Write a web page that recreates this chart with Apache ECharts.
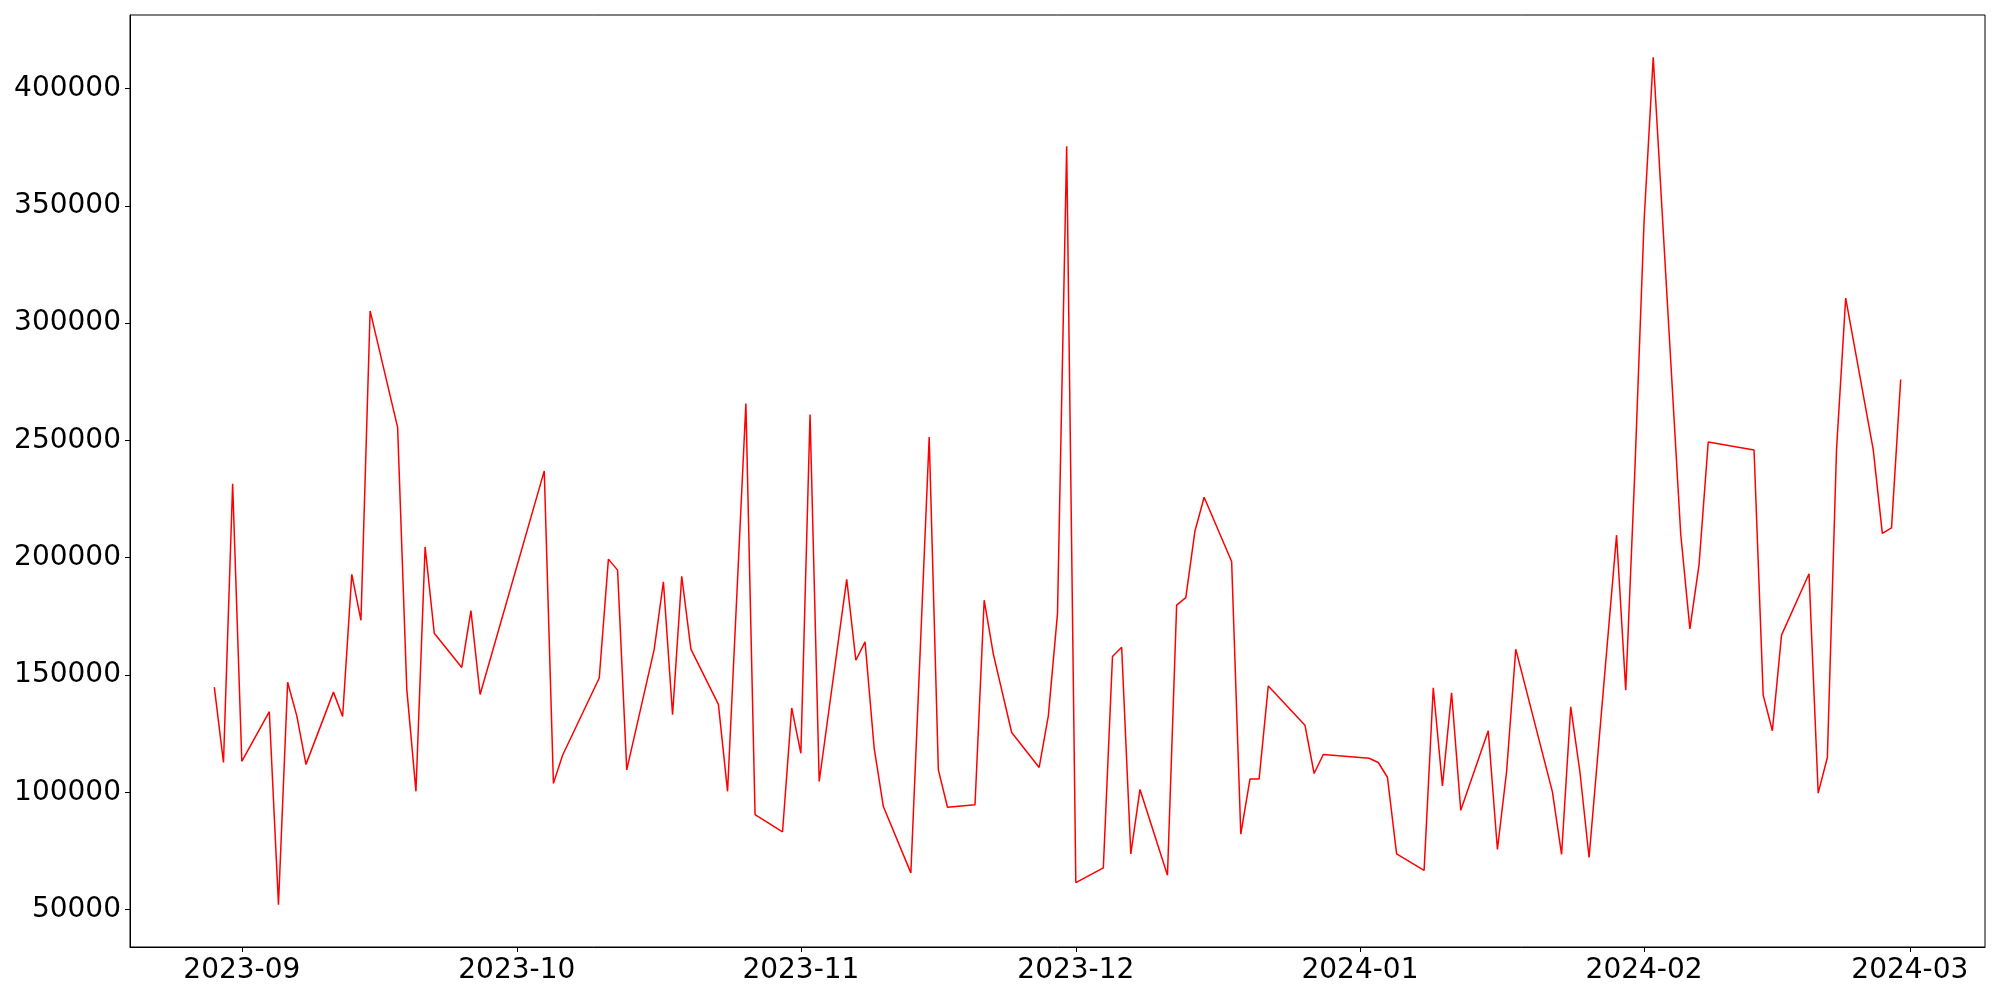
<!DOCTYPE html>
<html>
<head>
<meta charset="utf-8">
<script src="https://cdn.jsdelivr.net/npm/echarts@6/dist/echarts.min.js"></script>
<style>html,body{margin:0;padding:0;background:#fff}#c{width:2000px;height:1000px}</style>
</head>
<body>
<div id="c"></div>
<script>
const dates = [
'2023-08-29','2023-08-30','2023-08-31','2023-09-01','2023-09-04','2023-09-05','2023-09-06','2023-09-07','2023-09-08',
'2023-09-11','2023-09-12','2023-09-13','2023-09-14','2023-09-15','2023-09-18','2023-09-19','2023-09-20','2023-09-21','2023-09-22',
'2023-09-25','2023-09-26','2023-09-27','2023-10-04','2023-10-05','2023-10-06','2023-10-10','2023-10-11','2023-10-12','2023-10-13',
'2023-10-16','2023-10-17','2023-10-18','2023-10-19','2023-10-20','2023-10-23','2023-10-24','2023-10-26','2023-10-27',
'2023-10-30','2023-10-31','2023-11-01','2023-11-02','2023-11-03','2023-11-06','2023-11-07','2023-11-08','2023-11-09','2023-11-10',
'2023-11-13','2023-11-15','2023-11-16','2023-11-17','2023-11-20','2023-11-21','2023-11-22','2023-11-24',
'2023-11-27','2023-11-28','2023-11-29','2023-11-30','2023-12-01','2023-12-04','2023-12-05','2023-12-06','2023-12-07','2023-12-08',
'2023-12-11','2023-12-12','2023-12-13','2023-12-14','2023-12-15','2023-12-18','2023-12-19','2023-12-20','2023-12-21','2023-12-22',
'2023-12-26','2023-12-27','2023-12-28','2024-01-02','2024-01-03','2024-01-04','2024-01-05',
'2024-01-08','2024-01-09','2024-01-10','2024-01-11','2024-01-12','2024-01-15','2024-01-16','2024-01-17','2024-01-18',
'2024-01-22','2024-01-23','2024-01-24','2024-01-25','2024-01-26','2024-01-29','2024-01-30','2024-01-31','2024-02-01','2024-02-02',
'2024-02-05','2024-02-06','2024-02-07','2024-02-08','2024-02-13','2024-02-14','2024-02-15','2024-02-16',
'2024-02-19','2024-02-20','2024-02-21','2024-02-22','2024-02-23','2024-02-26','2024-02-27','2024-02-28','2024-02-29'
];
const values = [
144800,112700,231550,113200,134350,52100,146900,132550,111900,
142700,132300,192900,173300,305200,255550,144000,100400,204600,167800,
153200,177450,141700,237000,103800,115800,148700,199400,194700,109550,
161000,189750,133050,192100,161000,137500,100400,265750,90500,
83150,135950,116600,261050,104600,190800,156300,164150,118700,93900,
65650,251400,109550,93600,94650,181900,158900,125500,
110600,132550,176150,375450,61500,67750,157850,161800,73750,101200,
64650,179800,182950,211400,225800,198350,82150,105650,105650,145350,
128600,108000,116100,114500,112700,106400,73750,
66700,144550,102750,142450,92300,126250,75600,108750,161000,
100150,73500,136450,108750,72200,209600,143500,237550,343350,413300,
210100,169650,197050,249300,245900,141400,126250,167000,
193150,99650,114800,246150,310650,246150,210400,212700,275950
];
const xTickLabels = ['2023-09','2023-10','2023-11','2023-12','2024-01','2024-02','2024-03'];
const yTicks = [50000,100000,150000,200000,250000,300000,350000,400000];

const ts = s => new Date(s + 'T00:00:00Z').getTime();
const xTickValues = xTickLabels.map(m => ts(m + '-01'));
const labelByTs = {};
xTickLabels.forEach((m, i) => { labelByTs[xTickValues[i]] = m; });
const t0 = ts(dates[0]), t1 = ts(dates[dates.length - 1]);
const xPad = (t1 - t0) * 0.05;
const vMin = Math.min(...values), vMax = Math.max(...values);
const yPad = (vMax - vMin) * 0.05;

const font = 'DejaVu Sans';
const chart = echarts.init(document.getElementById('c'), null, {renderer: 'canvas'});
chart.setOption({
  animation: false,
  backgroundColor: '#fff',
  grid: {left: 130, right: 15, top: 15, bottom: 53, show: true, borderColor: '#000', borderWidth: 1, backgroundColor: 'transparent'},
  xAxis: {
    type: 'value',
    min: t0 - xPad,
    max: t1 + xPad,
    axisLine: {show: true, onZero: false, lineStyle: {color: '#000', width: 1}},
    axisTick: {show: true, length: 5, lineStyle: {color: '#000', width: 1}, customValues: xTickValues},
    axisLabel: {
      show: true, color: '#000', fontFamily: font, fontSize: 28, margin: 10,
      customValues: xTickValues,
      formatter: v => labelByTs[v] || ''
    },
    splitLine: {show: false}
  },
  yAxis: {
    type: 'value',
    min: vMin - yPad,
    max: vMax + yPad,
    axisLine: {show: true, onZero: false, lineStyle: {color: '#000', width: 1}},
    axisTick: {show: true, length: 5, lineStyle: {color: '#000', width: 1}, customValues: yTicks},
    axisLabel: {show: true, color: '#000', fontFamily: font, fontSize: 28, margin: 9, customValues: yTicks, formatter: v => String(v)},
    splitLine: {show: false}
  },
  series: [{
    type: 'line',
    data: dates.map((d, i) => [ts(d), values[i]]),
    showSymbol: false,
    symbol: 'none',
    lineStyle: {color: '#ff0000', width: 1.5},
    itemStyle: {color: '#ff0000'}
  }]
});
</script>
</body>
</html>
